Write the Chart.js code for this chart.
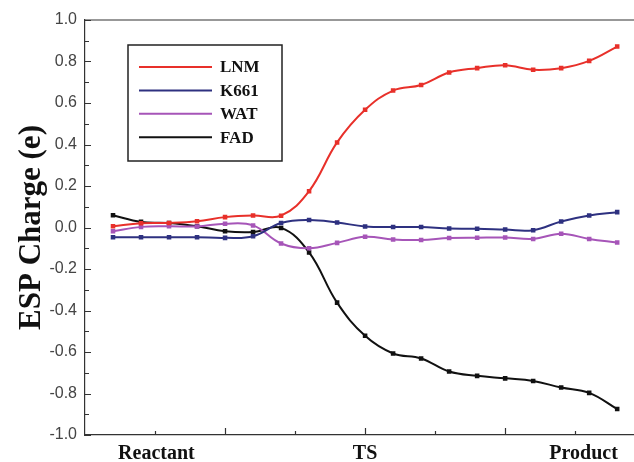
<!DOCTYPE html>
<html>
<head>
<meta charset="utf-8">
<script src="https://cdn.jsdelivr.net/npm/chart.js@4"></script>
<style>
  html, body { margin: 0; padding: 0; background: #fff; overflow: hidden; }
</style>
</head>
<body>
<canvas id="chart" width="634" height="462"></canvas>
<script>
// reaction coordinate frames (0 = reactant ... 18 = product)
const steps = [0, 1, 2, 3, 4, 5, 6, 7, 8, 9, 10, 11, 12, 13, 14, 15, 16, 17, 18];
const stageLabels = ['Reactant', 'TS', 'Product'];
const stageAt = [1.55, 9, 16.8];

const LNM  = [0.006, 0.02, 0.022, 0.03, 0.05, 0.058, 0.057, 0.175, 0.41, 0.567, 0.66, 0.687, 0.747, 0.768, 0.782, 0.76, 0.768, 0.803, 0.872];
const K661 = [-0.047, -0.047, -0.047, -0.047, -0.05, -0.042, 0.022, 0.036, 0.024, 0.005, 0.002, 0.002, -0.005, -0.006, -0.01, -0.013, 0.029, 0.058, 0.074];
const WAT  = [-0.018, 0.003, 0.006, 0.005, 0.018, 0.01, -0.077, -0.1, -0.074, -0.045, -0.058, -0.06, -0.051, -0.049, -0.048, -0.055, -0.03, -0.055, -0.072];
const FAD  = [0.059, 0.027, 0.022, 0.006, -0.018, -0.022, -0.002, -0.12, -0.362, -0.522, -0.607, -0.631, -0.694, -0.715, -0.727, -0.74, -0.771, -0.797, -0.875];

const seriesNames = ['LNM', 'K661', 'WAT', 'FAD'];
const seriesValues = [LNM, K661, WAT, FAD];
const seriesColors = ['#e8302a', '#2e3180', '#a655b8', '#111111'];

function toPoints(values) {
    return steps.map((s, i) => ({ x: s, y: values[i] }));
}

var datasets = [];
seriesNames.forEach((name, i) => {
    datasets.push({
        label: name,
        data: toPoints(seriesValues[i]),
        borderColor: seriesColors[i],
        backgroundColor: seriesColors[i],
        borderWidth: 2,
        pointStyle: 'rect',
        pointRadius: 1.8,
        tension: 0.4
    });
});

// inward tick marks, top frame line and boxed legend
const framePlugin = {
    id: 'frame',
    afterDraw(chart) {
        const ctx = chart.ctx;
        const a = chart.chartArea;
        const xs = chart.scales.x;
        const ys = chart.scales.y;
        ctx.save();
        ctx.strokeStyle = '#333';
        ctx.lineWidth = 1.2;
        ctx.beginPath();
        ctx.moveTo(a.left, a.top);
        ctx.lineTo(a.right, a.top);
        // y ticks
        for (let k = -10; k <= 10; k++) {
            const y = Math.round(ys.getPixelForValue(k / 10)) + 0.5;
            const len = (k % 2 === 0) ? 6 : 4;
            ctx.moveTo(a.left, y);
            ctx.lineTo(a.left + len, y);
        }
        // x ticks: long at 4, 9, 14, short halfway between
        [1.5, 4, 6.5, 9, 11.5, 14, 16.5].forEach((v, i) => {
            const x = Math.round(xs.getPixelForValue(v)) + 0.5;
            const len = (i % 2 === 1) ? 7 : 4;
            ctx.moveTo(x, a.bottom);
            ctx.lineTo(x, a.bottom - len);
        });
        ctx.stroke();

        // legend box
        const bx = 128, by = 45, bw = 154, bh = 116;
        ctx.strokeStyle = '#222';
        ctx.lineWidth = 1.5;
        ctx.strokeRect(bx, by, bw, bh);
        ctx.font = 'bold 17px "Liberation Serif", "Times New Roman", serif';
        ctx.textBaseline = 'middle';
        chart.data.datasets.forEach((ds, i) => {
            const y = 67 + i * 23.4;
            ctx.strokeStyle = ds.borderColor;
            ctx.lineWidth = 2;
            ctx.beginPath();
            ctx.moveTo(139, y);
            ctx.lineTo(212, y);
            ctx.stroke();
            ctx.fillStyle = '#111';
            ctx.fillText(ds.label, 220, y + 1);
        });
        ctx.restore();
    }
};

new Chart(document.getElementById('chart'), {
    type: 'line',
    data: { datasets: datasets },
    options: {
        responsive: false,
        devicePixelRatio: 1,
        animation: false,
        layout: { autoPadding: false, padding: { top: 20, right: 0, left: 0, bottom: 0 } },
        plugins: {
            legend: { display: false },
            tooltip: { enabled: false }
        },
        scales: {
            x: {
                type: 'linear',
                min: -1,
                max: 18.6,
                afterFit: (s) => { s.height = 27; s.paddingLeft = 0; s.paddingRight = 0; },
                afterBuildTicks: (s) => { s.ticks = stageAt.map(v => ({ value: v })); },
                grid: { display: false, drawTicks: false },
                border: { display: true, color: '#333', width: 1.2 },
                ticks: {
                    autoSkip: false,
                    maxRotation: 0,
                    padding: 7,
                    color: '#111',
                    font: { family: '"Liberation Serif", "Times New Roman", serif', size: 20, weight: 'bold' },
                    callback: (v) => {
                        const i = stageAt.indexOf(v);
                        return i >= 0 ? stageLabels[i] : '';
                    }
                }
            },
            y: {
                min: -1,
                max: 1,
                afterFit: (s) => { s.width = 85; },
                grid: { display: false, drawTicks: false },
                border: { display: true, color: '#333', width: 1.2 },
                ticks: {
                    stepSize: 0.2,
                    padding: 8,
                    color: '#444',
                    font: { family: '"Liberation Sans", Arial, sans-serif', size: 16 },
                    callback: (v) => v.toFixed(1)
                },
                title: {
                    display: true,
                    text: 'ESP Charge (e)',
                    color: '#111',
                    padding: { top: 13, bottom: 0 },
                    font: { family: '"Liberation Serif", "Times New Roman", serif', size: 31, weight: 'bold' }
                }
            }
        }
    },
    plugins: [framePlugin]
});
</script>
</body>
</html>
